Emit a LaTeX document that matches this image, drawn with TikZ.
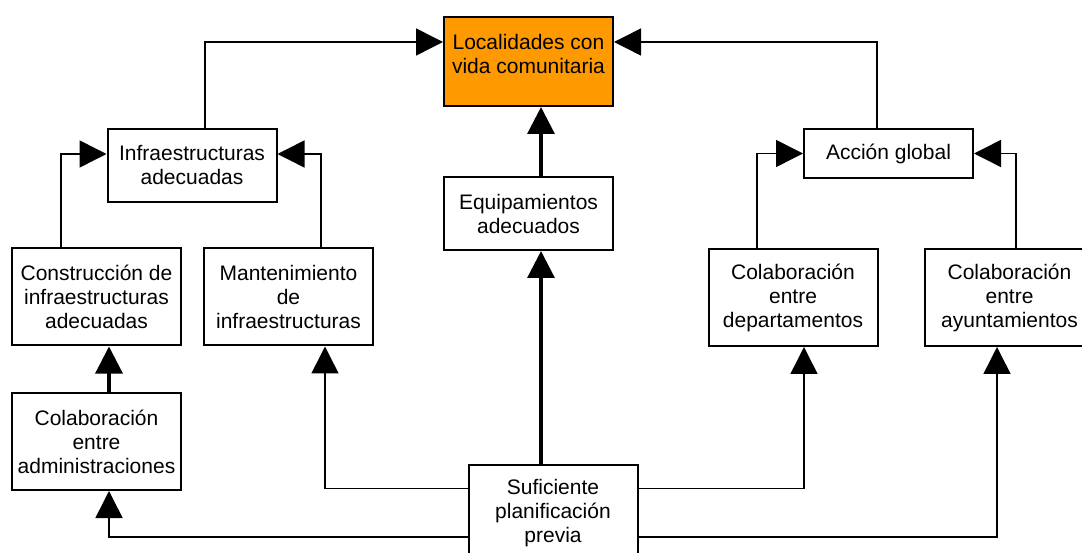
\documentclass[tikz,border=0pt]{standalone}
\usepackage{fontspec}
\setmainfont{Liberation Sans}
\usetikzlibrary{arrows.meta}
\definecolor{boxorange}{RGB}{255,153,0}
\begin{document}
\begin{tikzpicture}[x=1pt,y=-1pt,
  box/.style={draw=black, line width=2pt, fill=white, inner sep=0pt,
    minimum width=169pt, align=center, font=\fontsize{21}{24}\selectfont},
  thinline/.style={line width=1.5pt, -{Triangle[length=27pt,width=27pt]}},
  thickline/.style={line width=3.2pt, -{Triangle[length=27pt,width=27pt]}}]
\useasboundingbox (0,0) rectangle (1082,553);
\begin{scope}
\clip (0,0) rectangle (1082,553);
\node[box, fill=boxorange, minimum height=89pt] (loc) at (528.5,61.5)
  {\parbox[c][55pt][t]{165pt}{\centering Localidades con\\vida comunitaria}};
\node[box, minimum height=73pt] (infra) at (192,165.5) {Infraestructuras\\adecuadas};
\node[box, minimum height=73pt] (equip) at (528.5,213.5) {Equipamientos\\adecuados};
\node[box, minimum height=49pt] (accion) at (888.5,153.5) {Acción global};
\node[box, minimum height=97pt] (constr) at (96.5,297) {Construcción de\\infraestructuras\\adecuadas};
\node[box, minimum height=97pt] (mant) at (288.5,297) {Mantenimiento\\de\\infraestructuras};
\node[box, minimum height=97pt] (coldep) at (793,297.5) {Colaboración\\entre\\departamentos};
\node[box, minimum height=97pt] (colay) at (1009.5,297.5) {Colaboración\\entre\\ayuntamientos};
\node[box, minimum height=97pt] (coladm) at (96.5,441.5) {Colaboración\\entre\\administraciones};
\node[box, minimum height=97pt] (suf) at (553,513.5) {Suficiente\\planificación\\previa};

\draw[thinline] ([xshift=13pt]infra.north) |- ([yshift=19.5pt]loc.west);
\draw[thinline] ([xshift=-11.5pt]accion.north) |- ([yshift=19.5pt]loc.east);
\draw[thickline] ([xshift=12.5pt]equip.north) -- ([xshift=12.5pt]loc.south);
\draw[thinline] ([xshift=-35.5pt]constr.north) |- ([yshift=11.5pt]infra.west);
\draw[thinline] ([xshift=32.5pt]mant.north) |- ([yshift=11.5pt]infra.east);
\draw[thinline] ([xshift=-36pt]coldep.north) |- (accion.west);
\draw[thinline] ([xshift=6.5pt]colay.north) |- (accion.east);
\draw[thickline] ([xshift=12.5pt]coladm.north) -- ([xshift=12.5pt]constr.south);
\draw[thickline] ([xshift=-12pt]suf.north) -- ([xshift=12.5pt]equip.south);
\draw[thinline] ([yshift=25pt]suf.west) -| ([xshift=36.5pt]mant.south);
\draw[thinline] ([yshift=-23.5pt]suf.west) -| ([xshift=12.5pt]coladm.south);
\draw[thinline] ([yshift=25pt]suf.east) -| ([xshift=11pt]coldep.south);
\draw[thinline] ([yshift=-23.5pt]suf.east) -| ([xshift=-12.5pt]colay.south);
\end{scope}
\end{tikzpicture}
\end{document}
